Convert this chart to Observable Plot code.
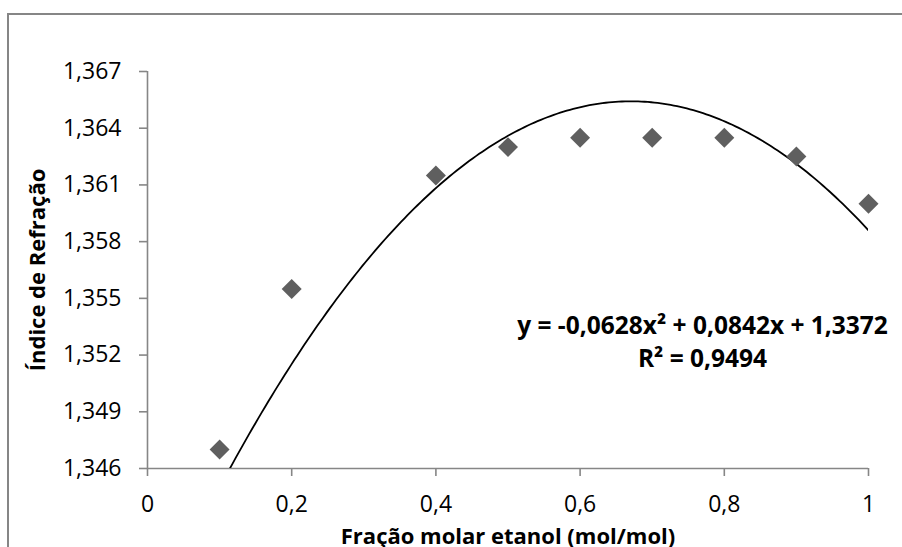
<!DOCTYPE html>
<html>
<head>
<meta charset="utf-8">
<script src="https://cdn.jsdelivr.net/npm/d3@7"></script>
<script src="https://cdn.jsdelivr.net/npm/@observablehq/plot@0.6"></script>
<style>
  html, body { margin: 0; padding: 0; background: #fff; }
  #wrap { position: relative; width: 902px; height: 547px; overflow: hidden; }
  #frame { position: absolute; left: 7px; top: 13px; width: 1000px; height: 1000px;
           border-left: 2px solid #868686; border-top: 2px solid #868686; box-sizing: border-box; }
  #chart { position: absolute; left: 0; top: 0; }
</style>
</head>
<body>
<div id="wrap"><div id="frame"></div><div id="chart"></div></div>
<script>
// Data
const fracaoMolar = [0.1, 0.2, 0.4, 0.5, 0.6, 0.7, 0.8, 0.9, 1.0];
const indiceRefracao = [1.3470, 1.3555, 1.3615, 1.3630, 1.3635, 1.3635, 1.3635, 1.3625, 1.3600];
// Trendline coefficients as printed on the chart: c0 + c1 x + c2 x^2
const trendCoef = [1.3372, 0.0842, -0.0628];
const trendLabel = ["y = -0,0628x² + 0,0842x + 1,3372", "R² = 0,9494"];
const yTicks = [1.346, 1.349, 1.352, 1.355, 1.358, 1.361, 1.364, 1.367];
const xTicks = [0, 0.2, 0.4, 0.6, 0.8, 1];
const xTitle = "Fração molar etanol (mol/mol)";
const yTitle = "Índice de Refração";

const points = fracaoMolar.map((x, i) => ({x, y: indiceRefracao[i]}));
const [x0, x1] = d3.extent(fracaoMolar);
const trend = d3.range(0, 201).map(k => {
  const x = x0 + (x1 - x0) * k / 200;
  return {x, y: trendCoef[0] + trendCoef[1] * x + trendCoef[2] * x * x};
});
const comma = d => String(d).replace(".", ",");
const font = "'Open Sans', sans-serif";
const axisColor = "#868686";

const chart = Plot.plot({
  width: 902,
  height: 547,
  marginLeft: 147,
  marginRight: 34,
  marginTop: 71,
  marginBottom: 79,
  style: {fontFamily: font, background: "transparent", color: "#000"},
  x: {domain: [0, 1], label: null},
  y: {domain: [1.346, 1.367], label: null},
  marks: [
    Plot.ruleY([1.346], {stroke: axisColor, strokeWidth: 1.6}),
    Plot.ruleX([0], {stroke: axisColor, strokeWidth: 1.6}),
    Plot.axisY({ticks: yTicks, tickFormat: d => d.toFixed(3).replace(".", ","), tickSize: 8, tickPadding: 18,
                stroke: axisColor, strokeWidth: 1.6, fontSize: 23, fill: "#000", label: null}),
    Plot.axisX({ticks: xTicks, tickFormat: comma, tickSize: 8, tickPadding: 19,
                stroke: axisColor, strokeWidth: 1.6, fontSize: 23, fill: "#000", label: null}),
    Plot.line(trend, {x: "x", y: "y", stroke: "#000", strokeWidth: 1.8, clip: true}),
    Plot.dot(points, {x: "x", y: "y", symbol: "diamond2", r: 9, fill: "#5f5f5f", stroke: "none"}),
    Plot.text([xTitle], {frameAnchor: "bottom", dy: 68, textAnchor: "middle", lineAnchor: "middle",
              fontSize: 22, fontWeight: "bold", fill: "#000"}),
    Plot.text([yTitle], {frameAnchor: "left", dx: -110, rotate: -90, textAnchor: "middle", lineAnchor: "middle",
              fontSize: 22, fontWeight: "bold", fill: "#000"}),
    Plot.text([trendLabel.join("\n")], {frameAnchor: "top-right", dx: -166, dy: 238, textAnchor: "middle",
              lineAnchor: "top", lineHeight: 1.38, fontSize: 24.5, fontWeight: "bold", fill: "#000"})
  ]
});
document.getElementById("chart").appendChild(chart);
</script>
</body>
</html>
